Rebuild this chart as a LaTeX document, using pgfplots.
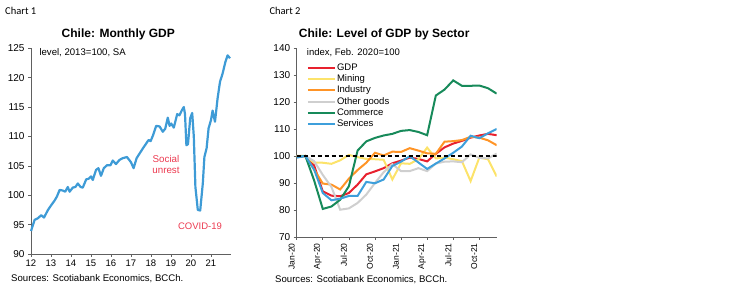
\documentclass[border=0pt]{standalone}
\usepackage{pgfplots}
\pgfplotsset{compat=1.18}
\usepackage{fontspec}
\setmainfont{Liberation Sans}
\newfontfamily\carlito{Carlito}
\definecolor{lblue}{HTML}{3E9BD6}
\definecolor{cred}{HTML}{E8212E}
\definecolor{cyel}{HTML}{FCE36A}
\definecolor{cora}{HTML}{FF9426}
\definecolor{cgry}{HTML}{CFCFCF}
\definecolor{cgrn}{HTML}{178A5A}
\definecolor{cblu}{HTML}{3D9FDB}
\definecolor{annot}{HTML}{EC3A50}
\definecolor{axgray}{HTML}{606060}

\pgfplotstableread{
m gdp mining industry other commerce services
0 99.6 100.0 99.8 100.0 99.6 99.4
1 100.0 100.0 100.0 100.0 100.0 100.0
2 96.5 97.5 95.0 98.1 91.0 95.0
3 86.9 97.5 89.8 93.0 80.4 86.3
4 85.3 97.1 89.4 88.5 81.3 83.6
5 85.1 98.4 87.6 80.1 83.8 84.2
6 86.3 100.4 91.6 80.6 88.8 85.2
7 89.4 99.6 94.8 82.6 102.0 85.2
8 93.2 98.9 97.5 85.7 105.4 90.4
9 94.3 98.8 101.2 90.0 106.7 89.9
10 95.5 98.6 100.2 94.0 107.6 91.3
11 97.3 91.3 101.6 97.0 108.2 96.3
12 98.3 97.3 101.5 94.4 109.3 97.9
13 99.4 97.1 102.9 94.4 109.6 99.9
14 98.9 98.8 102.0 95.5 108.9 97.6
15 98.0 103.1 101.0 94.4 107.7 95.2
16 100.8 99.1 100.8 97.2 122.4 97.2
17 103.2 99.4 105.3 97.9 124.6 99.1
18 104.6 98.8 105.5 98.0 128.0 101.2
19 105.6 98.1 105.9 97.7 126.0 103.5
20 106.8 90.7 107.1 100.6 126.0 107.5
21 107.6 99.4 106.8 99.3 126.1 106.6
22 108.2 98.8 105.8 99.1 125.1 108.4
23 107.7 92.4 104.0 100.9 123.1 110.0
}\sectors

\begin{document}
\begin{tikzpicture}[x=1pt,y=1pt]
\path[use as bounding box] (0,0) rectangle (750,291);

% ---------------- Chart 1 ----------------
\begin{axis}[
  at={(31pt,37pt)}, anchor=south west,
  scale only axis, width=200pt, height=205.7pt,
  xmin=2012, xmax=2022, ymin=90, ymax=125,
  axis x line*=bottom, axis y line*=left,
  axis line style={axgray, line width=0.8pt},
  tick style={axgray, line width=0.6pt},
  tick align=outside, major tick length=3pt,
  xtick={2012,...,2021}, xticklabels={12,13,14,15,16,17,18,19,20,21},
  ytick={90,95,...,125},
  /pgf/number format/assume math mode=true,
  tick label style={font=\fontsize{10}{12}\selectfont},
  xticklabel style={font=\fontsize{9.5}{11}\selectfont, yshift=1pt},
  clip=false,
]
\addplot[lblue, line width=2.2pt, line join=round] coordinates {
(2012.00,93.9) (2012.18,95.8) (2012.35,96.1) (2012.51,96.6) (2012.65,96.2)
(2012.85,97.5) (2013.01,98.3) (2013.18,99.1) (2013.30,99.8) (2013.43,100.9)
(2013.59,100.8) (2013.71,100.6) (2013.84,101.4) (2013.93,100.6) (2014.09,101.3)
(2014.22,101.4) (2014.34,102.0) (2014.48,101.4) (2014.59,101.3) (2014.76,102.7)
(2014.88,102.8) (2015.00,103.2) (2015.09,102.6) (2015.25,104.3) (2015.37,104.6)
(2015.50,103.3) (2015.64,104.6) (2015.80,105.1) (2015.97,105.1) (2016.09,105.9)
(2016.25,105.3) (2016.42,106.0) (2016.58,106.3) (2016.80,106.5) (2017.00,105.6)
(2017.13,104.6) (2017.28,106.3) (2017.43,107.1) (2017.60,108.0) (2017.76,108.8)
(2017.88,109.4) (2017.98,109.2) (2018.09,110.1) (2018.26,111.8) (2018.43,111.7)
(2018.59,110.8) (2018.71,111.3) (2018.84,113.2) (2018.93,111.8) (2019.01,112.2)
(2019.14,111.5) (2019.31,113.8) (2019.42,113.6) (2019.55,114.5) (2019.64,115.0)
(2019.70,113.8) (2019.77,108.5) (2019.85,108.7) (2019.96,113.1) (2020.06,114.0)
(2020.14,110.0) (2020.22,101.4) (2020.34,97.5) (2020.46,97.4) (2020.59,102.0)
(2020.67,106.5) (2020.78,108.0) (2020.88,111.4) (2021.00,112.8) (2021.08,114.4)
(2021.20,112.5) (2021.33,116.5) (2021.45,119.3) (2021.58,120.7) (2021.72,122.7)
(2021.83,123.8) (2021.95,123.3)
};
\end{axis}

% ---------------- Chart 2 ----------------
\begin{axis}[
  at={(296.7pt,54pt)}, anchor=south west,
  scale only axis, width=200pt, height=189pt,
  xmin=0, xmax=23, ymin=70, ymax=140,
  axis x line*=bottom, axis y line*=left,
  axis line style={axgray, line width=0.8pt},
  tick style={axgray, line width=0.6pt},
  tick align=outside, major tick length=3pt,
  xtick={0,3,...,21},
  xticklabels={Jan-20,Apr-20,Jul-20,Oct-20,Jan-21,Apr-21,Jul-21,Oct-21},
  ytick={70,80,...,140},
  /pgf/number format/assume math mode=true,
  tick label style={font=\fontsize{10}{12}\selectfont},
  xticklabel style={font=\fontsize{8.5}{10}\selectfont, rotate=90, anchor=east, yshift=5pt},
  legend cell align=left,
  legend style={at={(0.05,0.925)}, anchor=north west, draw=none, fill=none,
    font=\fontsize{9.5}{11}\selectfont, inner sep=0pt, row sep=0pt,
    nodes={inner sep=1.1pt, text height=7pt, text depth=2pt}},
  legend image code/.code={\draw[#1] (0pt,0pt) -- (27pt,0pt);},
]
\addplot[cred, line width=2pt] table[x=m, y=gdp] {\sectors};
\addlegendentry{GDP}
\addplot[cyel, line width=2pt] table[x=m, y=mining] {\sectors};
\addlegendentry{Mining}
\addplot[cora, line width=2pt] table[x=m, y=industry] {\sectors};
\addlegendentry{Industry}
\addplot[cgry, line width=2pt] table[x=m, y=other] {\sectors};
\addlegendentry{Other goods}
\addplot[cgrn, line width=2pt] table[x=m, y=commerce] {\sectors};
\addlegendentry{Commerce}
\addplot[cblu, line width=2pt] table[x=m, y=services] {\sectors};
\addlegendentry{Services}
\addplot[black, line width=1.1pt, dash pattern=on 4pt off 3pt, forget plot] coordinates {(0,100) (23,100)};
\end{axis}

% ---------------- Texts ----------------
\node[anchor=west, inner sep=0pt, font=\carlito\fontsize{10.5}{12}\selectfont] at (5,280.5) {Chart 1};
\node[anchor=west, inner sep=0pt, font=\carlito\fontsize{10.5}{12}\selectfont] at (269.3,280.5) {Chart 2};
\node[inner sep=0pt, font=\fontsize{12}{14}\selectfont\bfseries] at (118.3,256.7) {Chile: Monthly GDP};
\node[inner sep=0pt, font=\fontsize{12}{14}\selectfont\bfseries] at (384.2,257) {Chile: Level of GDP by Sector};
\node[anchor=west, inner sep=0pt, font=\fontsize{9.6}{11}\selectfont] at (39.3,238.5) {level, 2013=100, SA};
\node[anchor=west, inner sep=0pt, font=\fontsize{9.5}{11}\selectfont] at (306.7,238) {index, Feb. 2020=100};
\node[inner sep=0pt, text=annot, font=\fontsize{9.8}{11}\selectfont] at (166,132) {Social};
\node[inner sep=0pt, text=annot, font=\fontsize{9.8}{11}\selectfont] at (166,121) {unrest};
\node[inner sep=0pt, text=annot, font=\fontsize{9.5}{11}\selectfont] at (200,65) {COVID-19};
\node[anchor=west, inner sep=0pt, font=\fontsize{9.6}{11}\selectfont] at (11,12) {Sources: Scotiabank Economics, BCCh.};
\node[anchor=west, inner sep=0pt, font=\fontsize{9.6}{11}\selectfont] at (275,11) {Sources: Scotiabank Economics, BCCh.};
\end{tikzpicture}
\end{document}
